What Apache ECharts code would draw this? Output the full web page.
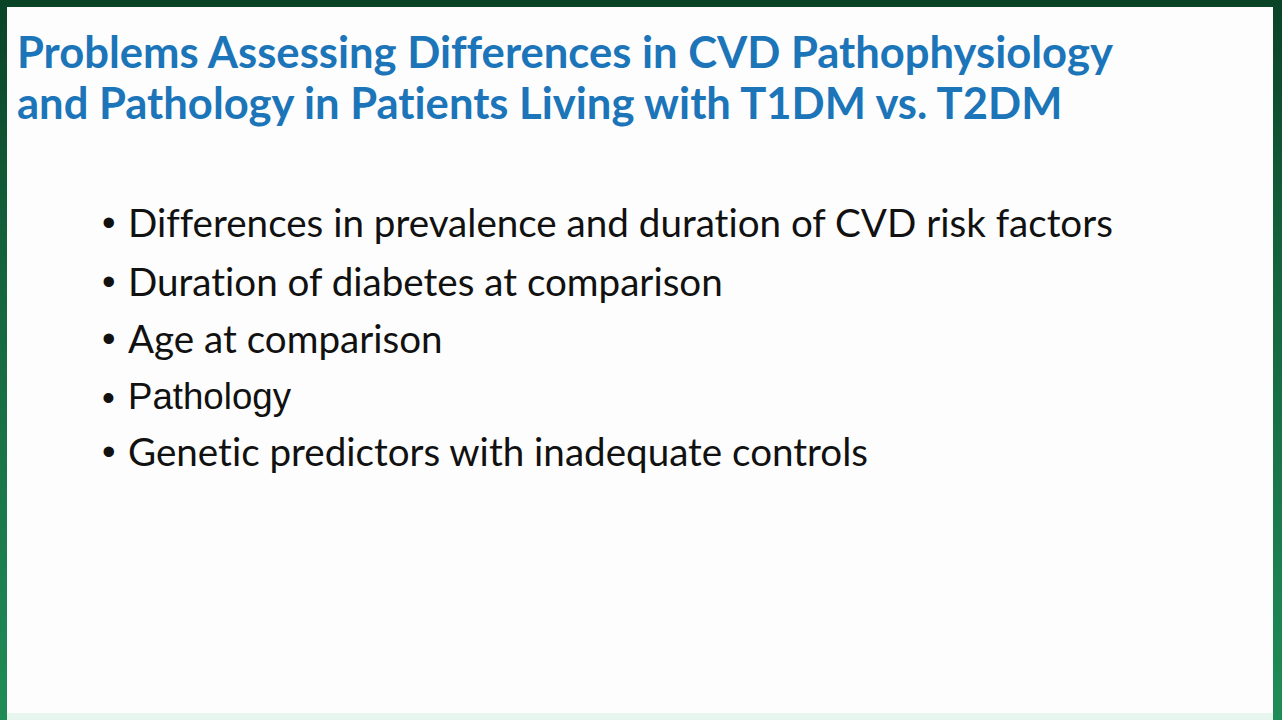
<!DOCTYPE html>
<html>
<head>
<meta charset="utf-8">
<script src="https://cdn.jsdelivr.net/npm/echarts@6/dist/echarts.min.js"></script>
<style>
html,body{margin:0;padding:0;background:#fdfdfd;}
#main{width:1282px;height:720px;}
#main text{font-variant-ligatures:none !important;font-feature-settings:"liga" 0,"clig" 0 !important;}
</style>
</head>
<body>
<div id="main"></div>
<script>
// Slide content
const titleLines = [
  'Problems Assessing Differences in CVD Pathophysiology',
  'and Pathology in Patients Living with T1DM vs. T2DM'
];
const bullets = [
  'Differences in prevalence and duration of CVD risk factors',
  'Duration of diabetes at comparison',
  'Age at comparison',
  'Pathology',
  'Genetic predictors with inadequate controls'
];
const bulletFonts = ['Lato', 'Lato', 'Lato', 'Liberation Sans', 'Lato'];

const W = 1282, H = 720;
const ctx = document.createElement('canvas').getContext('2d');
function fit(text, weight, family, target) {
  ctx.font = weight + ' 100px "' + family + '"';
  return 100 * target / ctx.measureText(text).width;
}
const titleSize = fit(titleLines[0], 'bold', 'Lato', 1096);
const bodySize = fit(bullets[0], 'normal', 'Lato', 985);
const arialSize = fit('Pathology', 'normal', 'Liberation Sans', 163);

const titleBaselines = [64, 115];
const bulletBaselines = [234, 293, 350, 408, 463];

const elements = [];
// frame
elements.push({
  type: 'rect', shape: {x: 0, y: 0, width: W, height: H}, silent: true,
  style: {fill: {type: 'linear', x: 0, y: 0, x2: 0, y2: 1, colorStops: [
    {offset: 0, color: '#0a4325'}, {offset: 0.35, color: '#14623c'},
    {offset: 1, color: '#1f8d58'}]}}
});
elements.push({
  type: 'rect', shape: {x: 7, y: 7, width: 1266, height: 706}, silent: true,
  style: {fill: '#fdfdfd'}
});
elements.push({
  type: 'rect', shape: {x: 7, y: 713, width: 1266, height: 7}, silent: true,
  style: {fill: '#e6f6ed'}
});
titleLines.forEach((t, i) => {
  elements.push({
    type: 'text', x: 17, y: titleBaselines[i] - 0.30 * titleSize,
    style: {text: t, fill: '#1b75b8', font: 'bold ' + titleSize.toFixed(2) + 'px Lato',
      align: 'left', verticalAlign: 'middle'}
  });
});
bullets.forEach((t, i) => {
  const fam = bulletFonts[i];
  const size = fam === 'Lato' ? bodySize : arialSize;
  const y = bulletBaselines[i] - 0.32 * size;
  elements.push({
    type: 'text', x: 102, y: y + 1,
    style: {text: '\u2022', fill: '#111', font: (1.0 * size).toFixed(2) + 'px "Liberation Sans"',
      align: 'left', verticalAlign: 'middle'}
  });
  elements.push({
    type: 'text', x: 128, y: y,
    style: {text: t, fill: '#111', font: size.toFixed(2) + 'px "' + fam + '"',
      align: 'left', verticalAlign: 'middle'}
  });
});

const chart = echarts.init(document.getElementById('main'), null, {renderer: 'svg'});
chart.setOption({
  backgroundColor: '#fdfdfd',
  animation: false,
  graphic: {elements: elements}
});
</script>
</body>
</html>
